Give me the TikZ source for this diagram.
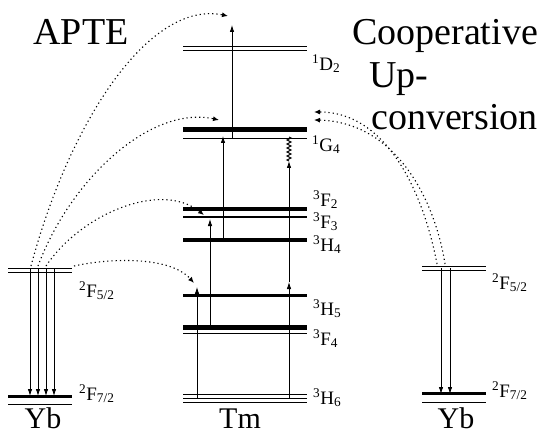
\documentclass[tikz,border=0pt]{standalone}
\usepackage{fontspec}
\setmainfont{Liberation Serif}
\usetikzlibrary{arrows.meta,decorations.pathmorphing}
\begin{document}
\begin{tikzpicture}[x=1pt,y=-1pt,
  thinlvl/.style={line width=0.9pt},
  thicklvl/.style={line width=3.6pt},
  lbl/.style={anchor=west,inner sep=0pt,font=\fontsize{19}{19}\selectfont},
  ion/.style={anchor=base,inner sep=0pt,font=\fontsize{30}{30}\selectfont},
  big/.style={anchor=base,inner sep=0pt,font=\fontsize{38}{40}\selectfont},
  trans/.style={line width=0.8pt,-{Latex[length=7pt,width=4.5pt]}},
  energy/.style={line width=1.1pt,dash pattern=on 1.2pt off 3pt,-{Latex[length=6pt,width=5pt]}}]
\useasboundingbox (0,0) rectangle (539,436);
% ---------- Tm levels ----------
\draw[thinlvl] (183,46.5) -- (307,46.5);
\draw[thinlvl] (183,50) -- (307,50);
\draw[line width=5pt] (183,130) -- (307,130);
\draw[thinlvl] (183,138) -- (307,138);
\draw[thicklvl] (183,209) -- (307,209);
\draw[line width=2pt] (183,216.5) -- (307,216.5);
\draw[line width=4.5pt] (183,240) -- (307,240);
\draw[thicklvl] (183,295.5) -- (307,295.5);
\draw[line width=5pt] (183,327.5) -- (307,327.5);
\draw[thinlvl] (183,333) -- (307,333);
\draw[thinlvl] (183,394.5) -- (307,394.5);
\draw[thinlvl] (183,398) -- (307,398);
\draw[thinlvl] (183,402) -- (307,402);
% ---------- Yb left ----------
\draw[thinlvl] (8,268) -- (72,268);
\draw[thinlvl] (8,272) -- (72,272);
\draw[line width=3pt] (8,396) -- (72,396);
\draw[thinlvl] (8,404) -- (72,404);
% ---------- Yb right ----------
\draw[thinlvl] (422,266) -- (486,266);
\draw[thinlvl] (422,270.5) -- (486,270.5);
\draw[line width=2.6pt] (422,393.5) -- (486,393.5);
\draw[thinlvl] (422,402) -- (486,402);
% ---------- labels ----------
\node[lbl] (lD2) at (312,64) {\textsuperscript{1}D\textsubscript{2}};
\node[lbl] (lG4) at (312,145) {\textsuperscript{1}G\textsubscript{4}};
\node[lbl] (lF2) at (313,200) {\textsuperscript{3}F\textsubscript{2}};
\node[lbl] (lF3) at (313,222) {\textsuperscript{3}F\textsubscript{3}};
\node[lbl] (lH4) at (313,245) {\textsuperscript{3}H\textsubscript{4}};
\node[lbl] (lH5) at (313,309) {\textsuperscript{3}H\textsubscript{5}};
\node[lbl] (lF4) at (313,339) {\textsuperscript{3}F\textsubscript{4}};
\node[lbl] (lH6) at (313,398) {\textsuperscript{3}H\textsubscript{6}};
\node[lbl] (lYa) at (79,291) {\textsuperscript{2}F\textsubscript{5/2}};
\node[lbl] (lYb) at (79,394) {\textsuperscript{2}F\textsubscript{7/2}};
\node[lbl] (rYa) at (492,283) {\textsuperscript{2}F\textsubscript{5/2}};
\node[lbl] (rYb) at (492,391) {\textsuperscript{2}F\textsubscript{7/2}};
\node[ion] (yb1) at (43,428) {Yb};
\node[ion] (tm) at (240,428) {Tm};
\node[ion] (yb2) at (456,428) {Yb};
\node[big] (apte) at (81,45) {APTE};
\node[big] (coop) at (445,45) {Cooperative};
\node[big,anchor=base west] (up) at (369,88) {Up-};
\node[big,anchor=base west] (conv) at (371,129) {conversion};
% ---------- coordinates ----------
\coordinate (ya1) at (30,268); \coordinate (yb1e) at (30,396);
\coordinate (ya2) at (38,268); \coordinate (yb2e) at (38,396);
\coordinate (ya3) at (46,268); \coordinate (yb3e) at (46,396);
\coordinate (ya4) at (54,268); \coordinate (yb4e) at (54,396);
\coordinate (yr1) at (441,268); \coordinate (yr1e) at (441,394);
\coordinate (yr2) at (450,268); \coordinate (yr2e) at (450,394);
\coordinate (t1s) at (197,398); \coordinate (t1e) at (197,287);
\coordinate (t2s) at (210,328); \coordinate (t2e) at (210,219);
\coordinate (t3s) at (223,240); \coordinate (t3e) at (223,136);
\coordinate (t4s) at (232,138); \coordinate (t4e) at (232,25);
\coordinate (t5s) at (289,398); \coordinate (t5e) at (289,282);
\coordinate (t6e) at (289,161);
\coordinate (t7e) at (289,137);
\coordinate (ya1t) at (31,266); \coordinate (ea1) at (228,16);
\coordinate (ya2t) at (38,266); \coordinate (ea2) at (219,120);
\coordinate (ya3t) at (46,266); \coordinate (ea3) at (204,215);
\coordinate (ya4t) at (74,266); \coordinate (ea4) at (194,283);
\coordinate (yr1t) at (437,264); \coordinate (er1) at (314,112);
\coordinate (yr2t) at (445,264); \coordinate (er2) at (314,120);
% ---------- Yb transitions ----------
\draw[trans] (ya1) -- (yb1e);
\draw[trans] (ya2) -- (yb2e);
\draw[trans] (ya3) -- (yb3e);
\draw[trans] (ya4) -- (yb4e);
\draw[trans] (yr1) -- (yr1e);
\draw[trans] (yr2) -- (yr2e);
% ---------- Tm transitions ----------
\draw[trans] (t1s) -- (t1e);
\draw[trans] (t2s) -- (t2e);
\draw[trans] (t3s) -- (t3e);
\draw[trans] (t4s) -- (t4e);
\draw[trans] (t5s) -- (t5e);
\draw[trans] (t5e) -- (t6e);
\draw[line width=0.9pt,decorate,decoration={zigzag,amplitude=2pt,segment length=4pt}] (t6e) -- (t7e);
% ---------- energy transfer ----------
\draw[energy] (ya1t) .. controls (70,120) and (150,0) .. (ea1);
\draw[energy] (ya2t) .. controls (70,180) and (150,105) .. (ea2);
\draw[energy] (ya3t) .. controls (80,215) and (160,180) .. (ea3);
\draw[energy] (ya4t) .. controls (110,258) and (170,256) .. (ea4);
\draw[energy] (yr1t) .. controls (425,200) and (390,112) .. (er1);
\draw[energy] (yr2t) .. controls (435,200) and (396,122) .. (er2);
\end{tikzpicture}
\end{document}
